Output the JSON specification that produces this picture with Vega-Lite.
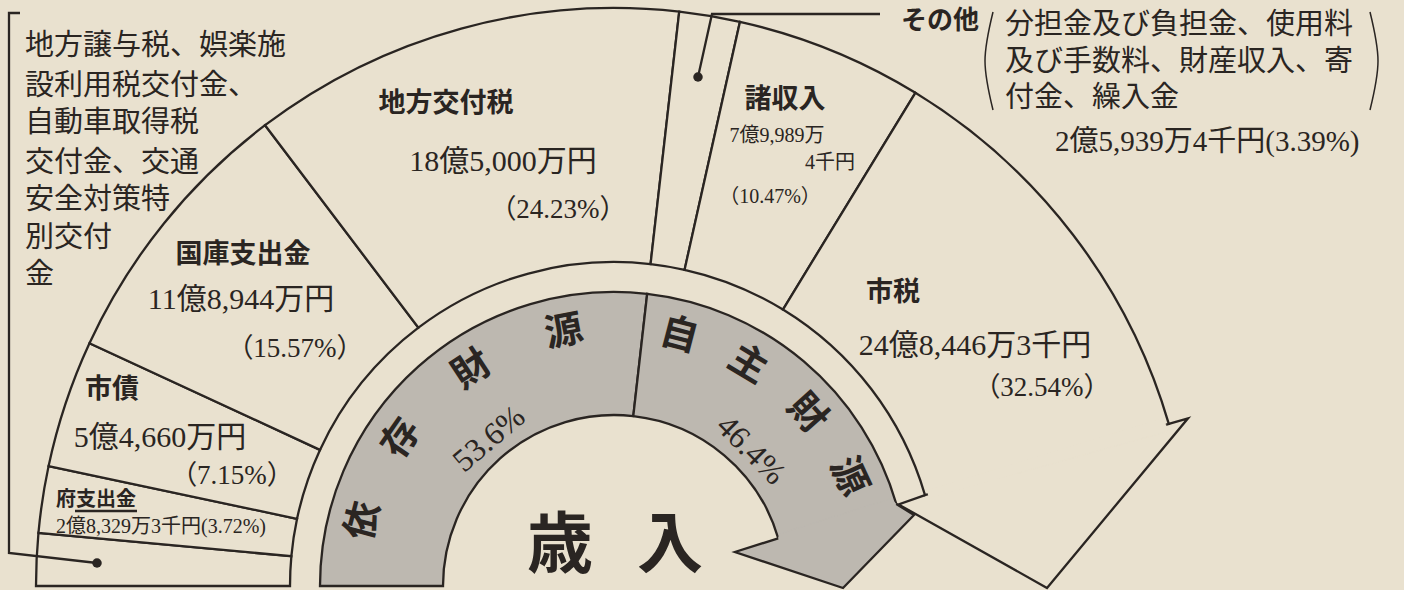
{
  "$schema": "https://vega.github.io/schema/vega-lite/v6.json",
  "width": 1404,
  "height": 590,
  "autosize": {"type": "none"},
  "padding": 0,
  "background": "#e9e1cf",
  "config": {"view": {"stroke": null}, "axis": {"disable": true}},
  "datasets": {
    "segments": [
      {"item": "地方譲与税等", "start": 0, "end": 2.93},
      {"item": "府支出金", "start": 2.93, "end": 6.65},
      {"item": "市債", "start": 6.65, "end": 13.8},
      {"item": "国庫支出金", "start": 13.8, "end": 29.37},
      {"item": "地方交付税", "start": 29.37, "end": 53.6},
      {"item": "その他", "start": 53.6, "end": 56.99},
      {"item": "諸収入", "start": 56.99, "end": 67.46},
      {"item": "市税", "start": 67.46, "end": 100}
    ],
    "bands": [
      {"group": "依存財源", "start": 0, "end": 53.6},
      {"group": "自主財源", "start": 53.6, "end": 100}
    ],
    "bandtext": [
      {"kind": "char", "text": "依", "pos": 8.1},
      {"kind": "char", "text": "存", "pos": 19.3},
      {"kind": "char", "text": "財", "pos": 31.5},
      {"kind": "char", "text": "源", "pos": 43.8},
      {"kind": "char", "text": "自", "pos": 58.1},
      {"kind": "char", "text": "主", "pos": 67.3},
      {"kind": "char", "text": "財", "pos": 76.8},
      {"kind": "char", "text": "源", "pos": 86.1},
      {"kind": "pct", "text": "53.6%", "pos": 27.6},
      {"kind": "pct", "text": "46.4%", "pos": 75.1}
    ],
    "shapes": [
      {"shape": "zeiArrow", "i": 1, "x": 554.8, "y": 162.1},
      {"shape": "zeiArrow", "i": 2, "x": 574.0, "y": 167.7},
      {"shape": "zeiArrow", "i": 3, "x": 433, "y": -2},
      {"shape": "zeiArrow", "i": 4, "x": 284.5, "y": 81.6},
      {"shape": "zeiArrow", "i": 5, "x": 311.0, "y": 90.9},
      {"shape": "grayArrow", "i": 1, "x": 282.3, "y": 82.0},
      {"shape": "grayArrow", "i": 2, "x": 300, "y": 71},
      {"shape": "grayArrow", "i": 3, "x": 229, "y": -2},
      {"shape": "grayArrow", "i": 4, "x": 121, "y": 34},
      {"shape": "grayArrow", "i": 5, "x": 164.2, "y": 47.7},
      {"shape": "leaderOther", "i": 1, "x": 84, "y": 509},
      {"shape": "leaderOther", "i": 2, "x": 98, "y": 572},
      {"shape": "leaderOther", "i": 3, "x": 266, "y": 572},
      {"shape": "bracket", "i": 1, "x": -594, "y": 573},
      {"shape": "bracket", "i": 2, "x": -605, "y": 573},
      {"shape": "bracket", "i": 3, "x": -605, "y": 33},
      {"shape": "bracket", "i": 4, "x": -517, "y": 23},
      {"shape": "underline", "i": 1, "x": -539, "y": 75},
      {"shape": "underline", "i": 2, "x": -477, "y": 75}
    ],
    "parens": [
      {"shape": "lp", "i": 1, "x": 379, "y": 574},
      {"shape": "lp", "i": 2, "x": 371, "y": 525},
      {"shape": "lp", "i": 3, "x": 379, "y": 476},
      {"shape": "rp", "i": 1, "x": 756, "y": 574},
      {"shape": "rp", "i": 2, "x": 764, "y": 525},
      {"shape": "rp", "i": 3, "x": 756, "y": 476}
    ],
    "fills": [
      {"shape": "cover", "i": 1, "x": 315.0, "y": 87.9},
      {"shape": "cover", "i": 2, "x": 553.8, "y": 154.6},
      {"shape": "cover", "i": 3, "x": 549.9, "y": 168.1},
      {"shape": "cover", "i": 4, "x": 312.7, "y": 95.6},
      {"shape": "grayFill", "i": 1, "x": 282.3, "y": 82.0},
      {"shape": "grayFill", "i": 2, "x": 300, "y": 71},
      {"shape": "grayFill", "i": 3, "x": 229, "y": -2},
      {"shape": "grayFill", "i": 4, "x": 121, "y": 34},
      {"shape": "grayFill", "i": 5, "x": 164.2, "y": 47.7},
      {"shape": "grayFill", "i": 6, "x": 165.9, "y": 52.3},
      {"shape": "grayFill", "i": 7, "x": 277.5, "y": 87.5}
    ],
    "dots": [
      {"x": 84, "y": 509},
      {"x": -517, "y": 23}
    ],
    "labels": [
      {"kind": "name", "text": "地方交付税", "x": -168, "y": 482},
      {"kind": "name", "text": "国庫支出金", "x": -371, "y": 331},
      {"kind": "name", "text": "市債", "x": -502, "y": 196},
      {"kind": "name", "text": "諸収入", "x": 171, "y": 486},
      {"kind": "name", "text": "市税", "x": 279, "y": 293},
      {"kind": "topname", "text": "その他", "x": 326, "y": 565},
      {"kind": "smallname", "text": "府支出金", "x": -518, "y": 86},
      {"kind": "amount", "text": "18億5,000万円", "x": -111, "y": 424},
      {"kind": "amount", "text": "11億8,944万円", "x": -373, "y": 286},
      {"kind": "amount", "text": "5億4,660万円", "x": -454, "y": 148},
      {"kind": "amount", "text": "24億8,446万3千円", "x": 361, "y": 240},
      {"kind": "pct", "text": "（24.23%）", "x": -56, "y": 376},
      {"kind": "pct", "text": "（15.57%）", "x": -319, "y": 237},
      {"kind": "pct", "text": "（7.15%）", "x": -382, "y": 110},
      {"kind": "pct", "text": "（32.54%）", "x": 428, "y": 198},
      {"kind": "small", "text": "2億8,329万3千円(3.72%)", "x": -453, "y": 59},
      {"kind": "small", "text": "7億9,989万", "x": 163, "y": 450},
      {"kind": "small", "text": "4千円", "x": 216, "y": 423},
      {"kind": "small", "text": "（10.47%）", "x": 156, "y": 389},
      {"kind": "note", "text": "地方譲与税、娯楽施", "x": -589, "y": 540},
      {"kind": "note", "text": "設利用税交付金、", "x": -589, "y": 500},
      {"kind": "note", "text": "自動車取得税", "x": -589, "y": 463},
      {"kind": "note", "text": "交付金、交通", "x": -589, "y": 423},
      {"kind": "note", "text": "安全対策特", "x": -589, "y": 386},
      {"kind": "note", "text": "別交付", "x": -589, "y": 348},
      {"kind": "note", "text": "金", "x": -589, "y": 311},
      {"kind": "note", "text": "分担金及び負担金、使用料", "x": 391, "y": 561},
      {"kind": "note", "text": "及び手数料、財産収入、寄", "x": 391, "y": 524},
      {"kind": "note", "text": "付金、繰入金", "x": 391, "y": 488},
      {"kind": "noteamount", "text": "2億5,939万4千円(3.39%)", "x": 441, "y": 444},
      {"kind": "big", "text": "歳", "x": -54, "y": 39},
      {"kind": "big", "text": "入", "x": 56, "y": 39}
    ]
  },
  "layer": [
    {
      "data": {"name": "segments"},
      "transform": [{"filter": "datum.item !== '市税'"}],
      "mark": {"type": "arc", "innerRadius": 324, "outerRadius": 578, "fill": "#e9e1cf", "stroke": "#2a2522", "strokeWidth": 2.3},
      "encoding": {
        "x": {"datum": 0, "type": "quantitative", "scale": {"domain": [-614, 790], "nice": false, "zero": false}},
        "y": {"datum": 0, "type": "quantitative", "scale": {"domain": [-4, 586], "nice": false, "zero": false}},
        "theta": {"field": "start", "type": "quantitative", "stack": null, "scale": {"domain": [0, 100], "range": [-1.5707963, 1.5707963]}},
        "theta2": {"field": "end"}
      }
    },
    {
      "data": {"name": "segments"},
      "transform": [{"filter": "datum.item === '市税'"}],
      "mark": {"type": "arc", "innerRadius": 324, "outerRadius": 578, "fill": "#e9e1cf", "stroke": "#2a2522", "strokeWidth": 2.3},
      "encoding": {
        "x": {"datum": 0, "type": "quantitative", "scale": {"domain": [-614, 790], "nice": false, "zero": false}},
        "y": {"datum": 0, "type": "quantitative", "scale": {"domain": [-4, 586], "nice": false, "zero": false}},
        "theta": {"field": "start", "type": "quantitative", "stack": null, "scale": {"domain": [0, 100], "range": [-1.5707963, 1.5707963]}},
        "theta2": {"datum": 90.95}
      }
    },
    {
      "data": {"name": "bands"},
      "transform": [{"filter": "datum.group === '依存財源'"}],
      "mark": {"type": "arc", "innerRadius": 171, "outerRadius": 294, "fill": "#bdb8b0", "stroke": "#2a2522", "strokeWidth": 2.3},
      "encoding": {
        "x": {"datum": 0, "type": "quantitative", "scale": {"domain": [-614, 790], "nice": false, "zero": false}},
        "y": {"datum": 0, "type": "quantitative", "scale": {"domain": [-4, 586], "nice": false, "zero": false}},
        "theta": {"field": "start", "type": "quantitative", "stack": null, "scale": {"domain": [0, 100], "range": [-1.5707963, 1.5707963]}},
        "theta2": {"field": "end"}
      }
    },
    {
      "data": {"name": "bands"},
      "transform": [{"filter": "datum.group === '自主財源'"}],
      "mark": {"type": "arc", "innerRadius": 171, "outerRadius": 294, "fill": "#bdb8b0", "stroke": "#2a2522", "strokeWidth": 2.3},
      "encoding": {
        "x": {"datum": 0, "type": "quantitative", "scale": {"domain": [-614, 790], "nice": false, "zero": false}},
        "y": {"datum": 0, "type": "quantitative", "scale": {"domain": [-4, 586], "nice": false, "zero": false}},
        "theta": {"field": "start", "type": "quantitative", "stack": null, "scale": {"domain": [0, 100], "range": [-1.5707963, 1.5707963]}},
        "theta2": {"datum": 91}
      }
    },
    {
      "data": {"name": "fills"},
      "transform": [{"filter": "datum.shape === 'cover'"}],
      "mark": {"type": "line", "fill": "#e9e1cf", "stroke": "#e9e1cf", "strokeWidth": 0.5},
      "encoding": {
        "x": {"field": "x", "type": "quantitative", "scale": {"domain": [-614, 790], "nice": false, "zero": false}},
        "y": {"field": "y", "type": "quantitative", "scale": {"domain": [-4, 586], "nice": false, "zero": false}},
        "order": {"field": "i", "type": "quantitative"}
      }
    },
    {
      "data": {"name": "fills"},
      "transform": [{"filter": "datum.shape === 'grayFill'"}],
      "mark": {"type": "line", "fill": "#bdb8b0", "stroke": "#bdb8b0", "strokeWidth": 0.5},
      "encoding": {
        "x": {"field": "x", "type": "quantitative", "scale": {"domain": [-614, 790], "nice": false, "zero": false}},
        "y": {"field": "y", "type": "quantitative", "scale": {"domain": [-4, 586], "nice": false, "zero": false}},
        "order": {"field": "i", "type": "quantitative"}
      }
    },
    {
      "data": {"name": "shapes"},
      "mark": {"type": "line", "stroke": "#2a2522", "strokeWidth": 2.3, "strokeJoin": "miter"},
      "encoding": {
        "x": {"field": "x", "type": "quantitative", "scale": {"domain": [-614, 790], "nice": false, "zero": false}},
        "y": {"field": "y", "type": "quantitative", "scale": {"domain": [-4, 586], "nice": false, "zero": false}},
        "detail": {"field": "shape"},
        "order": {"field": "i", "type": "quantitative"}
      }
    },
    {
      "data": {"name": "parens"},
      "mark": {"type": "line", "stroke": "#2a2522", "strokeWidth": 1.5, "interpolate": "natural"},
      "encoding": {
        "x": {"field": "x", "type": "quantitative", "scale": {"domain": [-614, 790], "nice": false, "zero": false}},
        "y": {"field": "y", "type": "quantitative", "scale": {"domain": [-4, 586], "nice": false, "zero": false}},
        "detail": {"field": "shape"},
        "order": {"field": "i", "type": "quantitative"}
      }
    },
    {
      "data": {"name": "dots"},
      "mark": {"type": "point", "shape": "circle", "filled": true, "size": 90, "color": "#2a2522", "opacity": 1},
      "encoding": {
        "x": {"field": "x", "type": "quantitative", "scale": {"domain": [-614, 790], "nice": false, "zero": false}},
        "y": {"field": "y", "type": "quantitative", "scale": {"domain": [-4, 586], "nice": false, "zero": false}}
      }
    },
    {
      "data": {"name": "bandtext"},
      "transform": [{"filter": "datum.kind === 'char'"}],
      "mark": {"type": "text", "radius": 258, "font": "Noto Sans CJK JP", "fontWeight": "bold", "fontSize": 38, "color": "#2a2522", "baseline": "middle", "align": "center"},
      "encoding": {
        "x": {"datum": 0, "type": "quantitative", "scale": {"domain": [-614, 790], "nice": false, "zero": false}},
        "y": {"datum": 0, "type": "quantitative", "scale": {"domain": [-4, 586], "nice": false, "zero": false}},
        "theta": {"field": "pos", "type": "quantitative", "stack": null, "scale": {"domain": [0, 100], "range": [-1.5707963, 1.5707963]}},
        "angle": {"field": "pos", "type": "quantitative", "scale": {"domain": [0, 100], "range": [-90, 90]}},
        "text": {"field": "text"}
      }
    },
    {
      "data": {"name": "bandtext"},
      "transform": [{"filter": "datum.kind === 'pct'"}],
      "mark": {"type": "text", "radius": 193, "font": "Liberation Serif", "fontSize": 32, "color": "#2a2522", "baseline": "middle", "align": "center"},
      "encoding": {
        "x": {"datum": 0, "type": "quantitative", "scale": {"domain": [-614, 790], "nice": false, "zero": false}},
        "y": {"datum": 0, "type": "quantitative", "scale": {"domain": [-4, 586], "nice": false, "zero": false}},
        "theta": {"field": "pos", "type": "quantitative", "stack": null, "scale": {"domain": [0, 100], "range": [-1.5707963, 1.5707963]}},
        "angle": {"field": "pos", "type": "quantitative", "scale": {"domain": [0, 100], "range": [-90, 90]}},
        "text": {"field": "text"}
      }
    },
    {
      "data": {"name": "labels"},
      "transform": [{"filter": "datum.kind === 'name'"}],
      "mark": {"type": "text", "font": "Noto Sans CJK JP", "fontWeight": "bold", "fontSize": 27, "color": "#2a2522", "baseline": "middle", "align": "center"},
      "encoding": {
        "x": {"field": "x", "type": "quantitative", "scale": {"domain": [-614, 790], "nice": false, "zero": false}},
        "y": {"field": "y", "type": "quantitative", "scale": {"domain": [-4, 586], "nice": false, "zero": false}},
        "text": {"field": "text"}
      }
    },
    {
      "data": {"name": "labels"},
      "transform": [{"filter": "datum.kind === 'topname'"}],
      "mark": {"type": "text", "font": "Noto Sans CJK JP", "fontWeight": "bold", "fontSize": 26, "color": "#2a2522", "baseline": "middle", "align": "center"},
      "encoding": {
        "x": {"field": "x", "type": "quantitative", "scale": {"domain": [-614, 790], "nice": false, "zero": false}},
        "y": {"field": "y", "type": "quantitative", "scale": {"domain": [-4, 586], "nice": false, "zero": false}},
        "text": {"field": "text"}
      }
    },
    {
      "data": {"name": "labels"},
      "transform": [{"filter": "datum.kind === 'smallname'"}],
      "mark": {"type": "text", "font": "Noto Sans CJK JP", "fontWeight": "bold", "fontSize": 20, "color": "#2a2522", "baseline": "middle", "align": "center"},
      "encoding": {
        "x": {"field": "x", "type": "quantitative", "scale": {"domain": [-614, 790], "nice": false, "zero": false}},
        "y": {"field": "y", "type": "quantitative", "scale": {"domain": [-4, 586], "nice": false, "zero": false}},
        "text": {"field": "text"}
      }
    },
    {
      "data": {"name": "labels"},
      "transform": [{"filter": "datum.kind === 'amount'"}],
      "mark": {"type": "text", "font": "Liberation Serif, Noto Sans CJK JP", "fontSize": 30, "color": "#2a2522", "baseline": "middle", "align": "center"},
      "encoding": {
        "x": {"field": "x", "type": "quantitative", "scale": {"domain": [-614, 790], "nice": false, "zero": false}},
        "y": {"field": "y", "type": "quantitative", "scale": {"domain": [-4, 586], "nice": false, "zero": false}},
        "text": {"field": "text"}
      }
    },
    {
      "data": {"name": "labels"},
      "transform": [{"filter": "datum.kind === 'pct'"}],
      "mark": {"type": "text", "font": "Liberation Serif, Noto Sans CJK JP", "fontSize": 27, "color": "#2a2522", "baseline": "middle", "align": "center"},
      "encoding": {
        "x": {"field": "x", "type": "quantitative", "scale": {"domain": [-614, 790], "nice": false, "zero": false}},
        "y": {"field": "y", "type": "quantitative", "scale": {"domain": [-4, 586], "nice": false, "zero": false}},
        "text": {"field": "text"}
      }
    },
    {
      "data": {"name": "labels"},
      "transform": [{"filter": "datum.kind === 'small'"}],
      "mark": {"type": "text", "font": "Liberation Serif, Noto Sans CJK JP", "fontSize": 20, "color": "#2a2522", "baseline": "middle", "align": "center"},
      "encoding": {
        "x": {"field": "x", "type": "quantitative", "scale": {"domain": [-614, 790], "nice": false, "zero": false}},
        "y": {"field": "y", "type": "quantitative", "scale": {"domain": [-4, 586], "nice": false, "zero": false}},
        "text": {"field": "text"}
      }
    },
    {
      "data": {"name": "labels"},
      "transform": [{"filter": "datum.kind === 'note'"}],
      "mark": {"type": "text", "font": "Noto Sans CJK JP", "fontSize": 29, "color": "#2a2522", "baseline": "middle", "align": "left"},
      "encoding": {
        "x": {"field": "x", "type": "quantitative", "scale": {"domain": [-614, 790], "nice": false, "zero": false}},
        "y": {"field": "y", "type": "quantitative", "scale": {"domain": [-4, 586], "nice": false, "zero": false}},
        "text": {"field": "text"}
      }
    },
    {
      "data": {"name": "labels"},
      "transform": [{"filter": "datum.kind === 'noteamount'"}],
      "mark": {"type": "text", "font": "Liberation Serif, Noto Sans CJK JP", "fontSize": 29, "color": "#2a2522", "baseline": "middle", "align": "left"},
      "encoding": {
        "x": {"field": "x", "type": "quantitative", "scale": {"domain": [-614, 790], "nice": false, "zero": false}},
        "y": {"field": "y", "type": "quantitative", "scale": {"domain": [-4, 586], "nice": false, "zero": false}},
        "text": {"field": "text"}
      }
    },
    {
      "data": {"name": "labels"},
      "transform": [{"filter": "datum.kind === 'big'"}],
      "mark": {"type": "text", "font": "Noto Sans CJK JP", "fontWeight": "bold", "fontSize": 66, "color": "#2a2522", "baseline": "middle", "align": "center"},
      "encoding": {
        "x": {"field": "x", "type": "quantitative", "scale": {"domain": [-614, 790], "nice": false, "zero": false}},
        "y": {"field": "y", "type": "quantitative", "scale": {"domain": [-4, 586], "nice": false, "zero": false}},
        "text": {"field": "text"}
      }
    }
  ]
}
